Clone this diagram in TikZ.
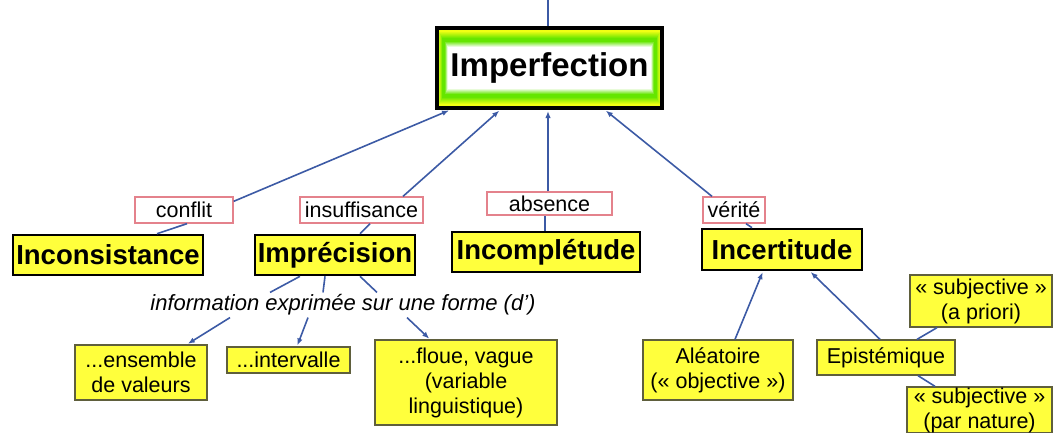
\documentclass[tikz,border=0pt]{standalone}
\usepackage{fontspec}
\setmainfont{Liberation Sans}
\usetikzlibrary{arrows.meta,backgrounds}

\definecolor{boxyellow}{RGB}{255,255,60}
\definecolor{impY}{RGB}{240,255,20}
\definecolor{impG}{RGB}{100,230,0}
\definecolor{lblred}{RGB}{228,130,140}
\definecolor{linkblue}{RGB}{60,90,165}
\definecolor{leafedge}{RGB}{95,95,60}

\tikzset{
  topbox/.style={draw=black, line width=4pt, inner sep=0pt,
    font=\bfseries\fontsize{33}{36}\selectfont},
  mainbox/.style={draw=black, line width=2.6pt, fill=boxyellow, inner sep=0pt,
    minimum height=40pt, font=\bfseries\fontsize{27.5}{30}\selectfont},
  lbl/.style={draw=lblred, line width=1.3pt, fill=white, inner sep=0pt,
    minimum height=26pt, font=\fontsize{21.5}{24}\selectfont},
  leaf/.style={draw=leafedge, line width=1.3pt, fill=boxyellow, inner sep=0pt,
    align=center, font=\fontsize{21.5}{25}\selectfont},
  phrase/.style={inner sep=0pt, font=\itshape\fontsize{22}{24}\selectfont},
  link/.style={draw=linkblue, line width=1.6pt},
  arr/.style={link, -{Latex[length=7pt,width=5.5pt]}, shorten >=1pt},
}

\begin{document}
\begin{tikzpicture}[x=1pt,y=-1pt]
\useasboundingbox (0,0) rectangle (1054,432);
\clip (0,0) rectangle (1054,432);

% top concept
\node[topbox, minimum width=225pt, minimum height=80pt] (imp) at (549.5,68) {Imperfection};
\coordinate (up) at (548,0);

% linking phrases
\node[lbl, minimum width=98pt]  (conflit) at (184,210)   {conflit};
\node[lbl, minimum width=123pt] (insuf)   at (361.5,210) {insuffisance};
\node[lbl, minimum width=125pt, minimum height=23pt] (absence) at (549.5,203.5) {absence};
\node[lbl, minimum width=62pt]  (verite)  at (734,210)   {vérité};

% second level concepts
\node[mainbox, minimum width=190pt] (incons) at (108,255)   {Inconsistance};
\node[mainbox, minimum width=160pt] (impr)   at (335,255)   {Imprécision};
\node[mainbox, minimum width=188pt] (incom)  at (546,252)   {Incomplétude};
\node[mainbox, minimum width=160pt, minimum height=41pt] (incert) at (782,249.5) {Incertitude};

% imprecision forms
\node[phrase] (forme) at (343,305) {information exprimée sur une forme (d’)};
\node[leaf, minimum width=132pt, minimum height=55pt] (ens)  at (141,372.5) {...ensemble\\de valeurs};
\node[leaf, minimum width=123pt, minimum height=26pt] (intv) at (288.5,360) {...intervalle};
\node[leaf, minimum width=182pt, minimum height=85pt] (flou) at (466,382.5) {...floue, vague\\(variable\\linguistique)};

% uncertainty kinds
\node[leaf, minimum width=150pt, minimum height=60pt] (alea) at (718,370)   {Aléatoire\\(« objective »)};
\node[leaf, minimum width=138pt, minimum height=35pt] (epis) at (886,357.5) {Epistémique};
\node[leaf, minimum width=142pt, minimum height=52pt] (subA) at (981,301)   {« subjective »\\(a priori)};
\node[leaf, minimum width=145pt, minimum height=46pt] (subN) at (979.5,410) {« subjective »\\(par nature)};

% glowing fill of the top concept
\begin{pgfonlayer}{background}
\foreach \i in {0,...,12}{
  \pgfmathtruncatemacro\p{max(0,min(100,(\i-5)*14))}
  \fill[fill={impG!\p!impY}] ([xshift={0.62*\i}, yshift={-\i}]imp.north west)
     rectangle ([xshift={-0.62*\i}, yshift={\i}]imp.south east);
}
\foreach \i in {13,...,21}{
  \pgfmathtruncatemacro\p{max(0,min(100,(\i-15)*17))}
  \fill[fill={white!\p!impG}] ([xshift={0.62*\i}, yshift={-\i}]imp.north west)
     rectangle ([xshift={-0.62*\i}, yshift={\i}]imp.south east);
}
\end{pgfonlayer}

% connectors
\draw[link] ([xshift=-1.5]imp.north) -- (up);

\draw[arr] ([yshift=-5]conflit.north east) -- ([xshift=15]imp.south west);
\draw[arr] ([xshift=41.5]insuf.north) -- ([xshift=-49.5]imp.south);
\draw[arr] ([xshift=-1.5]absence.north) -- ([xshift=-1.5]imp.south);
\draw[arr] ([xshift=-22]verite.north) -- ([xshift=55.5]imp.south);

\draw[link] ([xshift=49]incons.north) -- ([xshift=3]conflit.south);
\draw[link] ([xshift=25]impr.north) -- ([xshift=8.5]insuf.south);
\draw[link] ([xshift=-1]incom.north) -- ([xshift=-4.5]absence.south);
\draw[link] ([xshift=-30]incert.north) -- ([xshift=12]verite.south);

\draw[link] ([xshift=-35]impr.south) -- ([xshift=-73,yshift=2]forme.north);
\draw[link] ([xshift=-10]impr.south) -- ([xshift=-20,yshift=2]forme.north);
\draw[link] ([xshift=25]impr.south) -- ([xshift=34,yshift=2]forme.north);

\draw[arr] ([xshift=-113,yshift=-2]forme.south) -- ([xshift=46]ens.north);
\draw[arr] ([xshift=-35,yshift=-2]forme.south) -- ([xshift=8.5]intv.north);
\draw[arr] ([xshift=64,yshift=-2]forme.south) -- ([xshift=-36]flou.north);

\draw[arr] ([xshift=17]alea.north) -- ([xshift=-19]incert.south);
\draw[arr] ([xshift=-6]epis.north) -- ([xshift=28]incert.south);
\draw[link] ([xshift=31]epis.north) -- ([xshift=-44]subA.south);
\draw[link] ([xshift=32]epis.south) -- ([xshift=-44.5]subN.north);
\end{tikzpicture}
\end{document}
